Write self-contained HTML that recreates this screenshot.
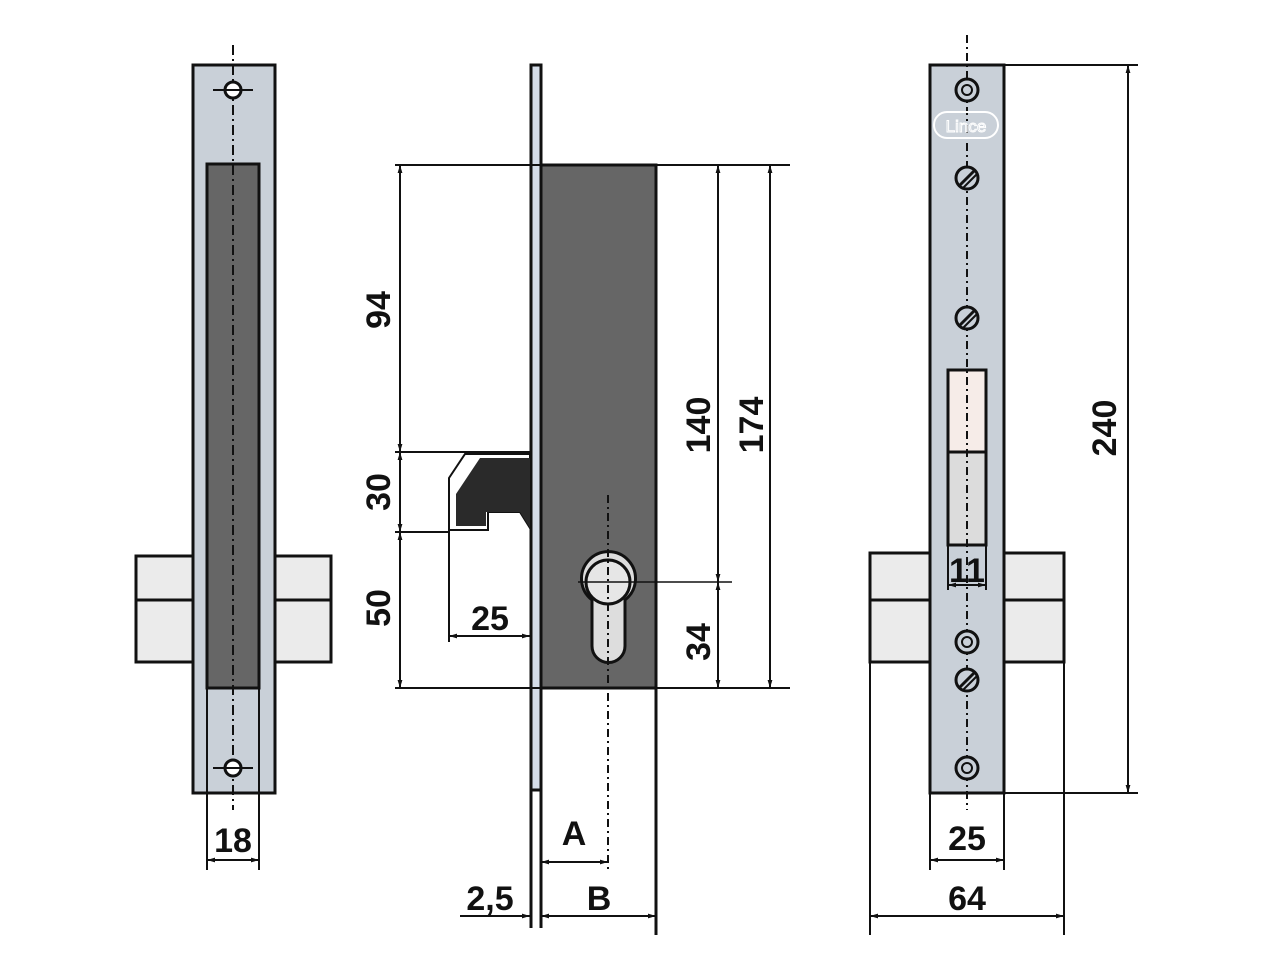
<!DOCTYPE html>
<html><head><meta charset="utf-8"><style>
html,body{margin:0;padding:0;background:#fff}
svg{display:block}
text{font-family:"Liberation Sans",sans-serif;font-weight:bold;font-size:34px;fill:#111}
</style></head><body>
<svg width="1280" height="960" viewBox="0 0 1280 960" xmlns="http://www.w3.org/2000/svg">
<defs>
<marker id="a" viewBox="0 0 10 10" refX="10" refY="5" markerWidth="12" markerHeight="8" orient="auto-start-reverse" markerUnits="userSpaceOnUse"><path d="M0,2 L10,5 L0,8 z" fill="#111"/></marker>
</defs>
<g stroke="#111" fill="none">
<!-- LEFT VIEW -->
<rect x="136" y="556" width="195" height="106" fill="#ebebeb" stroke-width="3"/>
<line x1="136" y1="600" x2="331" y2="600" stroke-width="3"/>
<rect x="193" y="65" width="82" height="728" fill="#c9d0d8" stroke-width="3"/>
<rect x="207" y="164" width="52" height="524" fill="#666" stroke-width="3"/>
<line x1="233" y1="45" x2="233" y2="810" stroke-width="2" stroke-dasharray="10,4,2,4"/>
<circle cx="233" cy="90" r="8" fill="#fff" stroke-width="3"/>
<line x1="213" y1="90" x2="253" y2="90" stroke-width="2"/>
<circle cx="233" cy="768" r="8" fill="#fff" stroke-width="3"/>
<line x1="213" y1="768" x2="253" y2="768" stroke-width="2"/>
<line x1="207" y1="688" x2="207" y2="870" stroke-width="2"/>
<line x1="259" y1="688" x2="259" y2="870" stroke-width="2"/>
<line x1="207" y1="860" x2="259" y2="860" stroke-width="2" marker-start="url(#a)" marker-end="url(#a)"/>

<!-- MIDDLE VIEW -->
<rect x="541" y="165" width="115" height="523" fill="#666" stroke-width="3"/>
<rect x="531" y="65" width="10" height="725" fill="#d4dce8" stroke-width="3"/>
<line x1="531" y1="790" x2="531" y2="928" stroke-width="3"/>
<line x1="541" y1="790" x2="541" y2="928" stroke-width="3"/>
<line x1="656" y1="688" x2="656" y2="935" stroke-width="3"/>
<!-- latch -->
<path d="M530,454 L465,454 L449,478 L449,530 L488,530 L488,512 L520,512 L530,528 Z" fill="#fff" stroke-width="2"/>
<path d="M530,458 L480,458 L456,494 L456,526 L486,526 L486,512 L520,512 L530,528 Z" fill="#2a2a2a" stroke="none"/>
<!-- keyhole -->
<path d="M592,600 A27,27 0 1 1 625,600 L625,646 A16.5,16.5 0 0 1 592,646 Z" fill="#ddd" stroke-width="3"/>
<circle cx="608" cy="582" r="22" fill="#e6e6e6" stroke-width="3"/>
<line x1="608" y1="495" x2="608" y2="870" stroke-width="2" stroke-dasharray="8,4,2,4"/>
<line x1="578" y1="582" x2="732" y2="582" stroke-width="1.5"/>
<!-- extensions -->
<line x1="395" y1="165" x2="790" y2="165" stroke-width="2"/>
<line x1="395" y1="688" x2="790" y2="688" stroke-width="2"/>
<line x1="395" y1="452" x2="530" y2="452" stroke-width="2"/>
<line x1="395" y1="532" x2="449" y2="532" stroke-width="2"/>
<line x1="449" y1="530" x2="449" y2="642" stroke-width="2"/>
<line x1="400" y1="165" x2="400" y2="452" stroke-width="2" marker-start="url(#a)" marker-end="url(#a)"/>
<line x1="400" y1="452" x2="400" y2="532" stroke-width="2" marker-start="url(#a)" marker-end="url(#a)"/>
<line x1="400" y1="532" x2="400" y2="688" stroke-width="2" marker-start="url(#a)" marker-end="url(#a)"/>
<line x1="718" y1="165" x2="718" y2="582" stroke-width="2" marker-start="url(#a)" marker-end="url(#a)"/>
<line x1="718" y1="582" x2="718" y2="688" stroke-width="2" marker-start="url(#a)" marker-end="url(#a)"/>
<line x1="770" y1="165" x2="770" y2="688" stroke-width="2" marker-start="url(#a)" marker-end="url(#a)"/>
<line x1="449" y1="636" x2="530" y2="636" stroke-width="2" marker-start="url(#a)" marker-end="url(#a)"/>
<line x1="541" y1="862" x2="608" y2="862" stroke-width="2" marker-start="url(#a)" marker-end="url(#a)"/>
<line x1="541" y1="916" x2="656" y2="916" stroke-width="2" marker-start="url(#a)" marker-end="url(#a)"/>
<line x1="460" y1="916" x2="530" y2="916" stroke-width="2" marker-end="url(#a)"/>

<!-- RIGHT VIEW -->
<rect x="870" y="553" width="194" height="109" fill="#ebebeb" stroke-width="3"/>
<line x1="870" y1="600" x2="1064" y2="600" stroke-width="3"/>
<line x1="870" y1="662" x2="870" y2="935" stroke-width="2"/>
<line x1="1064" y1="662" x2="1064" y2="935" stroke-width="2"/>
<rect x="930" y="65" width="74" height="728" fill="#c9d0d8" stroke-width="3"/>
<rect x="948" y="370" width="38" height="82" fill="#f6ece8" stroke-width="3"/>
<rect x="948" y="452" width="38" height="93" fill="#dcdcdc" stroke-width="3"/>
<line x1="967" y1="35" x2="967" y2="810" stroke-width="2" stroke-dasharray="8,4,2,4"/>
<rect x="934" y="112" width="64" height="26" rx="13" fill="none" stroke="#fff" stroke-width="2"/>
<text x="966" y="132" text-anchor="middle" style="font-size:17px;font-weight:normal;fill:#c9d0d8;stroke:#fff;stroke-width:1">Lince</text>
<g stroke-width="3">
<circle cx="967" cy="90" r="11" fill="#c9d0d8"/><circle cx="967" cy="90" r="5" fill="#c9d0d8" stroke-width="2"/>
<circle cx="967" cy="642" r="11" fill="#c9d0d8"/><circle cx="967" cy="642" r="5" fill="#c9d0d8" stroke-width="2"/>
<circle cx="967" cy="768" r="11" fill="#c9d0d8"/><circle cx="967" cy="768" r="5" fill="#c9d0d8" stroke-width="2"/>
<circle cx="967" cy="178" r="11" fill="#c9d0d8"/><line x1="959" y1="186" x2="975" y2="170"/><line x1="962" y1="189" x2="978" y2="173" stroke-width="2"/>
<circle cx="967" cy="318" r="11" fill="#c9d0d8"/><line x1="959" y1="326" x2="975" y2="310"/><line x1="962" y1="329" x2="978" y2="313" stroke-width="2"/>
<circle cx="967" cy="680" r="11" fill="#c9d0d8"/><line x1="959" y1="688" x2="975" y2="672"/><line x1="962" y1="691" x2="978" y2="675" stroke-width="2"/>
</g>
<line x1="948" y1="545" x2="948" y2="590" stroke-width="2"/>
<line x1="986" y1="545" x2="986" y2="590" stroke-width="2"/>
<line x1="948" y1="585" x2="986" y2="585" stroke-width="2" marker-start="url(#a)" marker-end="url(#a)"/>
<line x1="1004" y1="65" x2="1138" y2="65" stroke-width="2"/>
<line x1="1004" y1="793" x2="1138" y2="793" stroke-width="2"/>
<line x1="1128" y1="65" x2="1128" y2="793" stroke-width="2" marker-start="url(#a)" marker-end="url(#a)"/>
<line x1="930" y1="793" x2="930" y2="870" stroke-width="2"/>
<line x1="1004" y1="793" x2="1004" y2="870" stroke-width="2"/>
<line x1="930" y1="860" x2="1004" y2="860" stroke-width="2" marker-start="url(#a)" marker-end="url(#a)"/>
<line x1="870" y1="916" x2="1064" y2="916" stroke-width="2" marker-start="url(#a)" marker-end="url(#a)"/>
</g>

<text x="233" y="852" text-anchor="middle">18</text>
<text transform="translate(390,310) rotate(-90)" text-anchor="middle">94</text>
<text transform="translate(390,492) rotate(-90)" text-anchor="middle">30</text>
<text transform="translate(390,608) rotate(-90)" text-anchor="middle">50</text>
<text x="490" y="630" text-anchor="middle">25</text>
<text transform="translate(710,425) rotate(-90)" text-anchor="middle">140</text>
<text transform="translate(710,642) rotate(-90)" text-anchor="middle">34</text>
<text transform="translate(763,425) rotate(-90)" text-anchor="middle">174</text>
<text x="574" y="845" text-anchor="middle">A</text>
<text x="599" y="910" text-anchor="middle">B</text>
<text x="490" y="910" text-anchor="middle">2,5</text>
<text x="967" y="582" text-anchor="middle">11</text>
<text transform="translate(1116,428) rotate(-90)" text-anchor="middle">240</text>
<text x="967" y="850" text-anchor="middle">25</text>
<text x="967" y="910" text-anchor="middle">64</text>
</svg>
</body></html>
